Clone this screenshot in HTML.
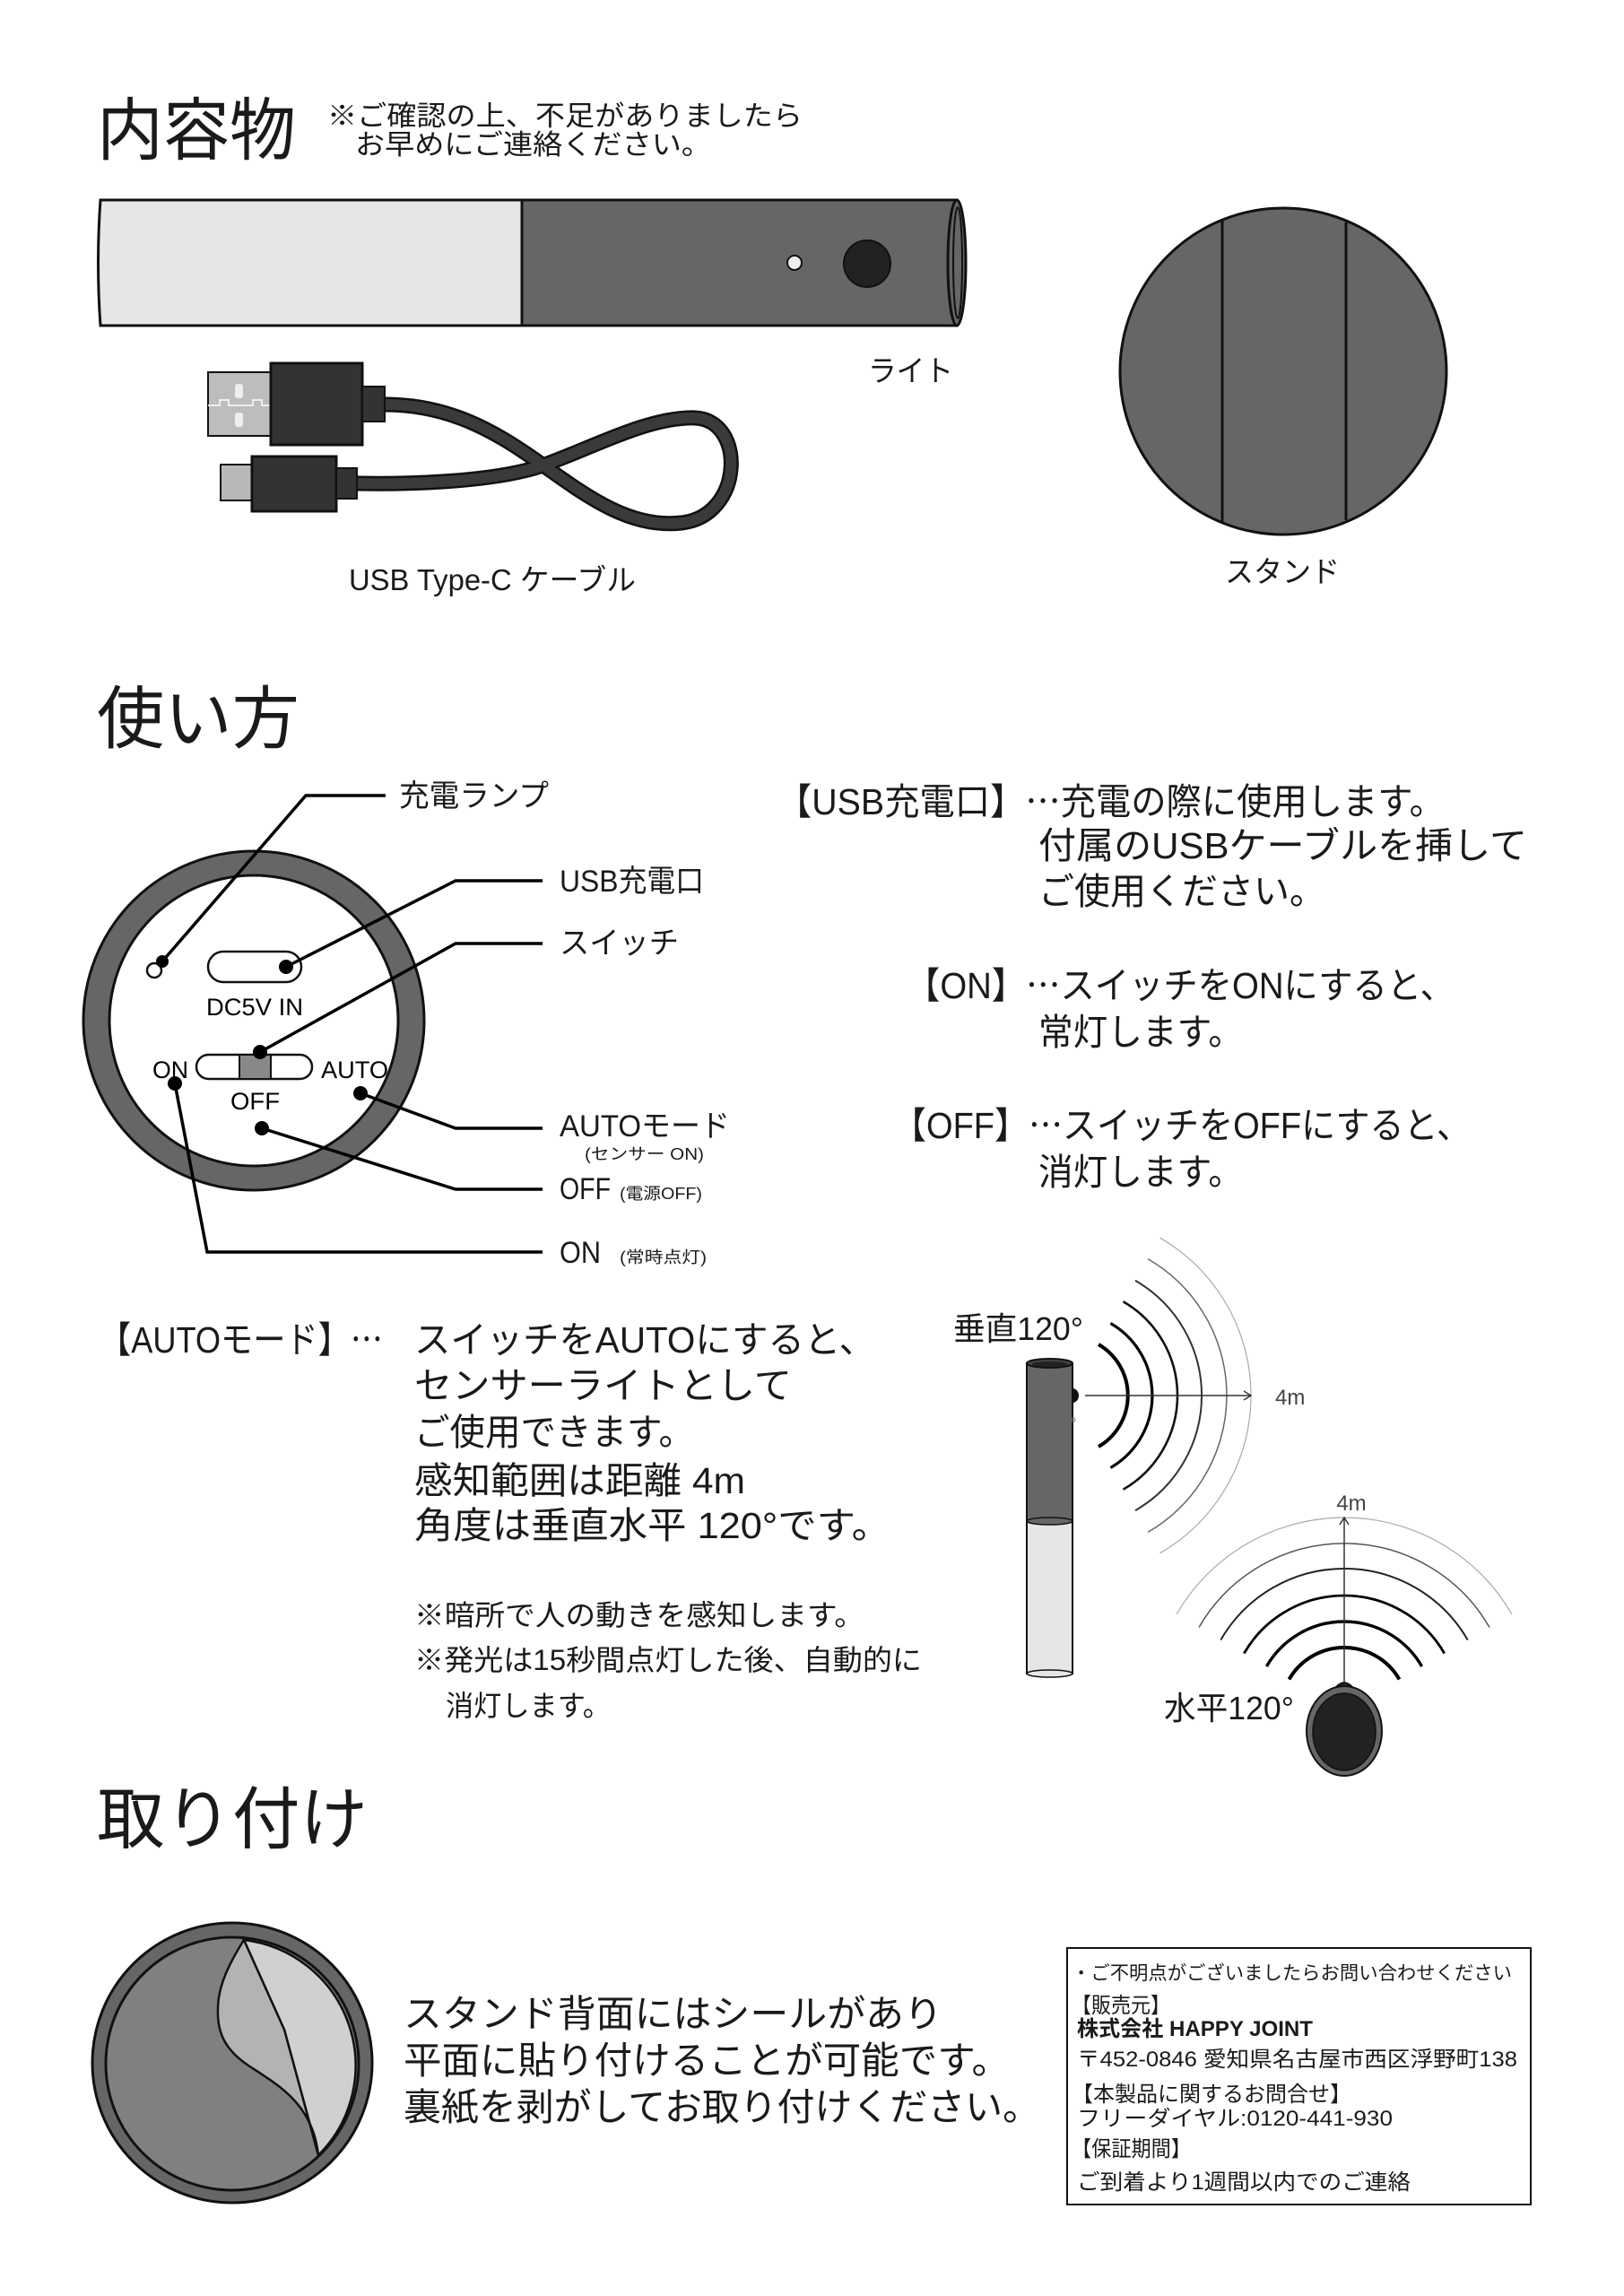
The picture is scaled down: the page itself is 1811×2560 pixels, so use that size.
<!DOCTYPE html>
<html><head><meta charset="utf-8"><style>
html,body{margin:0;padding:0;background:#fff}
svg{display:block}
text{font-family:"Liberation Sans","Noto Sans CJK JP",sans-serif;fill:#1a1a1a}
.a{font-family:"Liberation Sans",sans-serif;fill:#000}
.j{font-family:"Noto Sans CJK JP",sans-serif}
</style></head><body>
<svg width="1811" height="2560" viewBox="0 0 1811 2560" xmlns="http://www.w3.org/2000/svg">
<rect width="1811" height="2560" fill="#fff"/>

<text x="108" y="172" font-size="76" textLength="222" lengthAdjust="spacingAndGlyphs">内容物</text>
<text x="365" y="140" font-size="31" textLength="530" lengthAdjust="spacingAndGlyphs">※ご確認の上、不足がありましたら</text>
<text x="396" y="172" font-size="31" textLength="397" lengthAdjust="spacingAndGlyphs">お早めにご連絡ください。</text>

<path d="M112,223 L582,223 L582,363 L112,363 Q107,293 112,223 Z" fill="#e6e6e6" stroke="#111" stroke-width="3"/>
<rect x="582" y="223" width="485" height="140" fill="#666" stroke="#111" stroke-width="3"/>
<ellipse cx="1067" cy="293" rx="10" ry="70" fill="#666" stroke="#111" stroke-width="3"/>
<ellipse cx="1068" cy="293" rx="5" ry="62" fill="none" stroke="#111" stroke-width="2"/>
<circle cx="886" cy="293" r="8" fill="#eee" stroke="#111" stroke-width="2"/>
<circle cx="967" cy="294" r="26" fill="#222" stroke="#111" stroke-width="2"/>
<text x="968" y="425" font-size="33" textLength="95" lengthAdjust="spacingAndGlyphs">ライト</text>

<ellipse cx="1431" cy="414" rx="182" ry="182" fill="#666" stroke="#111" stroke-width="3"/>
<line x1="1363" y1="246" x2="1363" y2="582" stroke="#111" stroke-width="3"/>
<line x1="1501" y1="248" x2="1501" y2="580" stroke="#111" stroke-width="3"/>
<text x="1366" y="649" font-size="33" textLength="128" lengthAdjust="spacingAndGlyphs">スタンド</text>

<path d="M429,451 C500,451 550,480 596,512 C650,550 700,590 760,583 C830,575 832,468 775,466 C720,464 650,505 596,522 C540,538 450,540 398,539" fill="none" stroke="#111" stroke-width="17"/>
<path d="M429,451 C500,451 550,480 596,512 C650,550 700,590 760,583 C830,575 832,468 775,466 C720,464 650,505 596,522 C540,538 450,540 398,539" fill="none" stroke="#3a3a3a" stroke-width="12"/>
<rect x="232" y="415" width="72" height="71" fill="#bdbdbd" stroke="#111" stroke-width="2"/>
<rect x="262" y="428" width="9" height="16" rx="3" fill="#eee"/>
<rect x="262" y="460" width="9" height="16" rx="3" fill="#eee"/>
<path d="M232,452 L245,452 L245,446 L255,446 L255,452 L282,452 L282,446 L292,446 L292,452 L302,452" fill="none" stroke="#eee" stroke-width="2"/>
<rect x="302" y="405" width="102" height="91" fill="#333" stroke="#111" stroke-width="3"/>
<rect x="404" y="431" width="25" height="39" fill="#333" stroke="#111" stroke-width="2"/>
<rect x="246" y="518" width="36" height="40" fill="#b8b8b8" stroke="#111" stroke-width="2"/>
<rect x="281" y="509" width="94" height="61" fill="#333" stroke="#111" stroke-width="3"/>
<rect x="375" y="522" width="23" height="34" fill="#333" stroke="#111" stroke-width="2"/>
<text x="389" y="658" font-size="33" textLength="320" lengthAdjust="spacingAndGlyphs">USB Type-C ケーブル</text>

<text x="108" y="828" font-size="76" textLength="226" lengthAdjust="spacingAndGlyphs">使い方</text>

<ellipse cx="283" cy="1138" rx="190" ry="189" fill="#666" stroke="#111" stroke-width="3"/>
<ellipse cx="283" cy="1138" rx="161" ry="162" fill="#fff" stroke="#111" stroke-width="3"/>
<circle cx="172" cy="1082" r="8" fill="#fff" stroke="#111" stroke-width="2.5"/>
<rect x="232" y="1061" width="104" height="34" rx="17" fill="#fff" stroke="#111" stroke-width="2.5"/>
<text class="a" x="284" y="1132" font-size="27" text-anchor="middle" textLength="108" lengthAdjust="spacingAndGlyphs">DC5V IN</text>
<rect x="219" y="1176" width="129" height="27" rx="13.5" fill="#fff" stroke="#111" stroke-width="2.5"/>
<rect x="267" y="1176" width="35" height="27" fill="#888" stroke="#111" stroke-width="2"/>
<text class="a" x="170" y="1202" font-size="27" textLength="40" lengthAdjust="spacingAndGlyphs">ON</text>
<text class="a" x="358" y="1202" font-size="27" textLength="75" lengthAdjust="spacingAndGlyphs">AUTO</text>
<text class="a" x="257" y="1237" font-size="27" textLength="55" lengthAdjust="spacingAndGlyphs">OFF</text>

<g stroke="#000" stroke-width="3.5" fill="none">
<polyline points="181,1072 341,887 430,887"/>
<polyline points="319,1078 508,982 605,982"/>
<polyline points="290,1173 508,1052 605,1052"/>
<polyline points="402,1219 508,1258 605,1258"/>
<polyline points="292,1258 508,1326 605,1326"/>
<polyline points="195,1208 231,1396 605,1396"/>
</g>
<g fill="#000">
<circle cx="181" cy="1072" r="7"/><circle cx="319" cy="1078" r="8"/><circle cx="290" cy="1173" r="8"/>
<circle cx="402" cy="1219" r="8"/><circle cx="292" cy="1258" r="8"/><circle cx="195" cy="1208" r="8"/>
</g>

<text x="445" y="899" font-size="34" textLength="167" lengthAdjust="spacingAndGlyphs">充電ランプ</text>
<text x="624" y="994" font-size="34" textLength="161" lengthAdjust="spacingAndGlyphs">USB充電口</text>
<text x="624" y="1063" font-size="34" textLength="133" lengthAdjust="spacingAndGlyphs">スイッチ</text>
<text x="624" y="1267" font-size="34" textLength="190" lengthAdjust="spacingAndGlyphs">AUTOモード</text>
<text x="652" y="1293" font-size="18" textLength="133" lengthAdjust="spacingAndGlyphs">(センサー ON)</text>
<text x="624" y="1337" font-size="34" textLength="57" lengthAdjust="spacingAndGlyphs">OFF</text>
<text x="691" y="1337" font-size="18" textLength="92" lengthAdjust="spacingAndGlyphs">(電源OFF)</text>
<text x="624" y="1408" font-size="34" textLength="46" lengthAdjust="spacingAndGlyphs">ON</text>
<text x="691" y="1408" font-size="18" textLength="97" lengthAdjust="spacingAndGlyphs">(常時点灯)</text>

<text x="866" y="908" font-size="41" textLength="745" lengthAdjust="spacingAndGlyphs">【USB充電口】<tspan class="j">…</tspan>充電の際に使用します。</text>
<text x="1158" y="957" font-size="41" textLength="545" lengthAdjust="spacingAndGlyphs">付属のUSBケーブルを挿して</text>
<text x="1158" y="1008" font-size="41" textLength="320" lengthAdjust="spacingAndGlyphs">ご使用ください。</text>
<text x="1010" y="1113" font-size="41" textLength="612" lengthAdjust="spacingAndGlyphs">【ON】<tspan class="j">…</tspan>スイッチをONにすると、</text>
<text x="1158" y="1165" font-size="41" textLength="228" lengthAdjust="spacingAndGlyphs">常灯します。</text>
<text x="995" y="1269" font-size="41" textLength="645" lengthAdjust="spacingAndGlyphs">【OFF】<tspan class="j">…</tspan>スイッチをOFFにすると、</text>
<text x="1158" y="1321" font-size="41" textLength="228" lengthAdjust="spacingAndGlyphs">消灯します。</text>

<text x="110" y="1508" font-size="41" textLength="317" lengthAdjust="spacingAndGlyphs">【AUTOモード】<tspan class="j">…</tspan></text>
<text x="462" y="1508" font-size="41" textLength="514" lengthAdjust="spacingAndGlyphs">スイッチをAUTOにすると、</text>
<text x="462" y="1559" font-size="41" textLength="421" lengthAdjust="spacingAndGlyphs">センサーライトとして</text>
<text x="462" y="1611" font-size="41" textLength="312" lengthAdjust="spacingAndGlyphs">ご使用できます。</text>
<text x="462" y="1665" font-size="41" textLength="369" lengthAdjust="spacingAndGlyphs">感知範囲は距離 4m</text>
<text x="462" y="1715" font-size="41" textLength="531" lengthAdjust="spacingAndGlyphs">角度は垂直水平 120°です。</text>
<text x="462" y="1812" font-size="32" textLength="502" lengthAdjust="spacingAndGlyphs">※暗所で人の動きを感知します。</text>
<text x="462" y="1862" font-size="32" textLength="566" lengthAdjust="spacingAndGlyphs">※発光は15秒間点灯した後、自動的に</text>
<text x="497" y="1913" font-size="32" textLength="184" lengthAdjust="spacingAndGlyphs">消灯します。</text>

<rect x="1145" y="1696" width="51" height="170" fill="#e6e6e6" stroke="#111" stroke-width="2"/>
<ellipse cx="1170.5" cy="1866" rx="25.5" ry="4" fill="#e6e6e6" stroke="#111" stroke-width="1.5"/>
<rect x="1145" y="1520" width="51" height="176" fill="#666" stroke="#111" stroke-width="2"/>
<ellipse cx="1170.5" cy="1696" rx="25.5" ry="4" fill="#666" stroke="#111" stroke-width="1.5"/>
<ellipse cx="1170.5" cy="1520" rx="25.5" ry="5" fill="#444" stroke="#111" stroke-width="2"/>
<ellipse cx="1170.5" cy="1521" rx="20" ry="3" fill="#222"/>
<path d="M1196,1548 A7,8 0 0 1 1196,1564 Z" fill="#111"/>
<circle cx="1197" cy="1583" r="2" fill="none" stroke="#777" stroke-width="1"/>
<text x="1063" y="1494" font-size="36" textLength="145" lengthAdjust="spacingAndGlyphs">垂直120°</text>

<g fill="none">
<path d="M1225,1499 A66,66 0 0 1 1225,1613" stroke="#000" stroke-width="4"/>
<path d="M1238.5,1475.5 A93,93 0 0 1 1238.5,1636.5" stroke="#000" stroke-width="3.2"/>
<path d="M1252.5,1451.2 A121,121 0 0 1 1252.5,1660.8" stroke="#111" stroke-width="2.6"/>
<path d="M1266,1427.8 A148,148 0 0 1 1266,1684.2" stroke="#333" stroke-width="2"/>
<path d="M1280,1403.6 A176,176 0 0 1 1280,1708.4" stroke="#666" stroke-width="1.5"/>
<path d="M1293.5,1380.2 A203,203 0 0 1 1293.5,1731.8" stroke="#aaa" stroke-width="1.2"/>
<line x1="1210" y1="1556" x2="1394" y2="1556" stroke="#333" stroke-width="1.5"/>
<polyline points="1387,1551 1395,1556 1387,1561" stroke="#333" stroke-width="1.5"/>
</g>
<text x="1422" y="1566" font-size="24" style="fill:#444">4m</text>

<g fill="none">
<path d="M1437.5,1872.5 A71,71 0 0 1 1560.5,1872.5" stroke="#000" stroke-width="4"/>
<path d="M1412.4,1858 A100,100 0 0 1 1585.6,1858" stroke="#000" stroke-width="3.4"/>
<path d="M1387.3,1843.5 A129,129 0 0 1 1610.7,1843.5" stroke="#000" stroke-width="2.8"/>
<path d="M1361.3,1828.5 A159,159 0 0 1 1636.7,1828.5" stroke="#222" stroke-width="2"/>
<path d="M1337,1814.5 A187,187 0 0 1 1661,1814.5" stroke="#555" stroke-width="1.5"/>
<path d="M1312,1800 A216,216 0 0 1 1686,1800" stroke="#aaa" stroke-width="1.2"/>
<line x1="1499" y1="1882" x2="1499" y2="1693" stroke="#333" stroke-width="1.5"/>
<polyline points="1494,1700 1499,1692 1504,1700" stroke="#333" stroke-width="1.5"/>
</g>
<text x="1507" y="1684" font-size="24" text-anchor="middle" style="fill:#444">4m</text>
<path d="M1486,1886 Q1499,1866 1512,1886 Z" fill="#222" stroke="#111" stroke-width="1.5"/>
<ellipse cx="1499" cy="1930" rx="42" ry="50" fill="#666" stroke="#111" stroke-width="2"/>
<ellipse cx="1499" cy="1931" rx="35" ry="43" fill="#222" stroke="#111" stroke-width="1.5"/>
<text x="1298" y="1917" font-size="36" textLength="145" lengthAdjust="spacingAndGlyphs">水平120°</text>

<text x="108" y="2055" font-size="76" textLength="302" lengthAdjust="spacingAndGlyphs">取り付け</text>

<circle cx="259" cy="2300" r="156" fill="#666" stroke="#111" stroke-width="3"/>
<circle cx="259" cy="2301" r="141" fill="#808080" stroke="#111" stroke-width="3"/>
<path d="M272,2163 L317,2263 L355,2403 A141,141 0 0 0 272,2163 Z" fill="#d0d0d0" stroke="#111" stroke-width="2.5"/>
<path d="M272,2163 C255,2190 243,2215 243,2240 C242,2265 250,2285 277,2303 C300,2318 320,2330 335,2350 C348,2368 353,2385 355,2403 L317,2263 Z" fill="#b3b3b3" stroke="#111" stroke-width="2.5"/>

<text x="450" y="2260" font-size="42" textLength="601" lengthAdjust="spacingAndGlyphs">スタンド背面にはシールがあり</text>
<text x="450" y="2312" font-size="42" textLength="676" lengthAdjust="spacingAndGlyphs">平面に貼り付けることが可能です。</text>
<text x="450" y="2364" font-size="42" textLength="710" lengthAdjust="spacingAndGlyphs">裏紙を剥がしてお取り付けください。</text>

<rect x="1190" y="2172" width="517" height="286" fill="#fff" stroke="#111" stroke-width="2"/>
<text x="1195" y="2207" font-size="21" textLength="491" lengthAdjust="spacingAndGlyphs">・ご不明点がございましたらお問い合わせください</text>
<text x="1195" y="2244" font-size="24" textLength="110" lengthAdjust="spacingAndGlyphs">【販売元】</text>
<text x="1201" y="2270" font-size="24" font-weight="bold" textLength="263" lengthAdjust="spacingAndGlyphs">株式会社 HAPPY JOINT</text>
<text x="1201" y="2304" font-size="24" textLength="491" lengthAdjust="spacingAndGlyphs">〒452-0846 愛知県名古屋市西区浮野町138</text>
<text x="1195" y="2343" font-size="24" textLength="312" lengthAdjust="spacingAndGlyphs">【本製品に関するお問合せ】</text>
<text x="1201" y="2370" font-size="24" textLength="352" lengthAdjust="spacingAndGlyphs">フリーダイヤル:0120-441-930</text>
<text x="1195" y="2404" font-size="24" textLength="133" lengthAdjust="spacingAndGlyphs">【保証期間】</text>
<text x="1201" y="2441" font-size="24" textLength="372" lengthAdjust="spacingAndGlyphs">ご到着より1週間以内でのご連絡</text>
</svg>
</body></html>
